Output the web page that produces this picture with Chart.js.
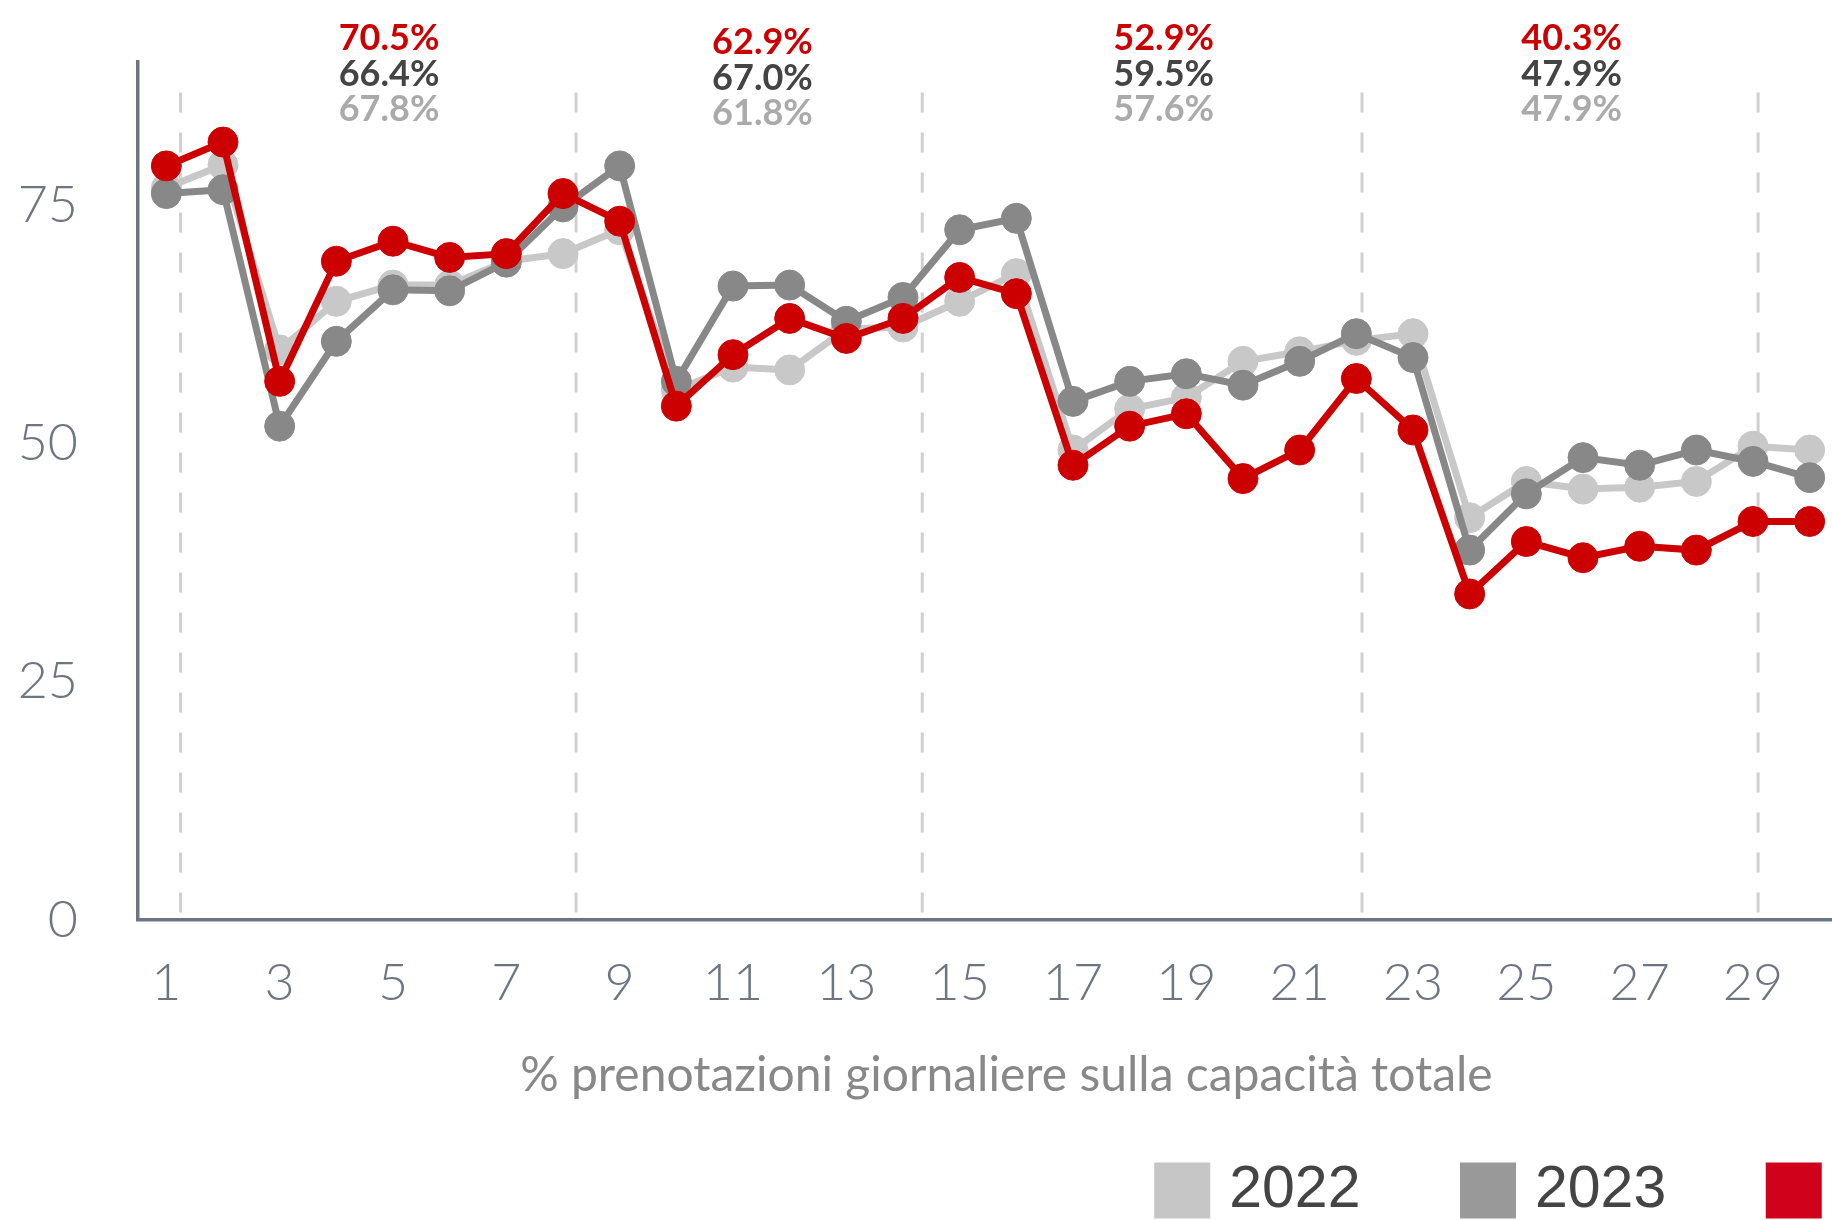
<!DOCTYPE html>
<html>
<head>
<meta charset="utf-8">
<script src="https://cdn.jsdelivr.net/npm/chart.js@4.4.1/dist/chart.umd.min.js"></script>
<style>
    html, body { margin: 0; padding: 0; background: #fff; overflow: hidden; }
    #wrap { position: relative; width: 1832px; height: 1220px; overflow: hidden; }
    #myChart { position: absolute; left: 0; top: 0; width: 2082px; height: 1230px; }
</style>
</head>
<body>
<div id="wrap"><canvas id="myChart" width="2082" height="1230"></canvas></div>
<script>
    // days of the month
    var days = ['1', '2', '3', '4', '5', '6', '7', '8', '9', '10', '11', '12', '13', '14', '15',
                '16', '17', '18', '19', '20', '21', '22', '23', '24', '25', '26', '27', '28', '29', '30'];

    // % daily bookings on total capacity
    var values2022 = [76.8, 79.2, 59.8, 64.9, 66.6, 66.6, 69.1, 69.9, 72.4, 55.6, 58.0, 57.7, 62.0, 62.2, 64.9,
                      67.8, 49.3, 53.6, 54.8, 58.6, 59.6, 60.8, 61.5, 42.2, 46.0, 45.2, 45.4, 46.0, 49.7, 49.3];
    var values2023 = [76.2, 76.6, 51.8, 60.7, 66.1, 66.0, 69.0, 74.8, 79.1, 56.5, 66.5, 66.6, 62.8, 65.3, 72.4,
                      73.6, 54.4, 56.5, 57.3, 56.1, 58.6, 61.5, 59.0, 38.8, 44.7, 48.5, 47.7, 49.3, 48.1, 46.4];
    var values2024 = [79.1, 81.6, 56.5, 69.1, 71.2, 69.5, 69.9, 76.2, 73.3, 53.9, 59.3, 63.1, 61.0, 63.1, 67.4,
                      65.7, 47.7, 51.8, 53.1, 46.3, 49.3, 56.8, 51.4, 34.2, 39.7, 38.0, 39.2, 38.8, 41.8, 41.8];

    // weekly averages shown on top
    var weekAvg2024 = [70.5, 62.9, 52.9, 40.3];
    var weekAvg2023 = [66.4, 67.0, 59.5, 47.9];
    var weekAvg2022 = [67.8, 61.8, 57.6, 47.9];

    // where the week separators and week labels sit (in days)
    var weekBreaks = [1.25, 8.23, 14.34, 22.1, 29.09];
    var weekCenters = [4.93, 11.52, 18.6, 25.8];
    var labelShift = [0, 4, 0, 0];

    var yTicks = [0, 25, 50, 75];

    var axisColor = '#6c7682';

    var weekLines = {
        id: 'weekLines',
        beforeDatasetsDraw: function (chart) {
            var c = chart.ctx, x = chart.scales.x, y = chart.scales.y;
            c.save();
            c.strokeStyle = '#d0d0d0';
            c.lineWidth = 3;
            c.setLineDash([20, 20]);
            weekBreaks.forEach(function (d) {
                var px = x.getPixelForValue(d - 1);
                c.beginPath();
                c.moveTo(px, y.getPixelForValue(86.8));
                c.lineTo(px, y.getPixelForValue(0));
                c.stroke();
            });
            c.restore();
        }
    };

    var weekLabels = {
        id: 'weekLabels',
        afterDraw: function (chart) {
            var c = chart.ctx, x = chart.scales.x, top = chart.chartArea.top;
            var rows = [
                { vals: weekAvg2024, color: '#cc0000', dy: -23.5 },
                { vals: weekAvg2023, color: '#444444', dy: 12 },
                { vals: weekAvg2022, color: '#aaaaaa', dy: 47.5 }
            ];
            c.save();
            c.font = 'bold 36px Lato';
            c.textAlign = 'center';
            c.textBaseline = 'middle';
            weekCenters.forEach(function (d, i) {
                var px = x.getPixelForValue(d - 1);
                rows.forEach(function (r) {
                    c.fillStyle = r.color;
                    c.fillText(r.vals[i].toFixed(1) + '%', px, top + r.dy + labelShift[i]);
                });
            });
            c.restore();
        }
    };

    Chart.defaults.font.family = 'Lato';

    var ctx = document.getElementById('myChart').getContext('2d');
    var chart = new Chart(ctx, {
        type: 'line',
        data: {
            labels: days,
            datasets: [{
                label: '2022',
                data: values2022,
                borderColor: '#c8c8c8',
                backgroundColor: '#c6c6c6',
                pointBackgroundColor: '#c8c8c8',
                pointBorderColor: '#c8c8c8',
                order: 3
            }, {
                label: '2023',
                data: values2023,
                borderColor: '#888888',
                backgroundColor: '#999999',
                pointBackgroundColor: '#888888',
                pointBorderColor: '#888888',
                order: 2
            }, {
                label: '2024',
                data: values2024,
                borderColor: '#cc0000',
                backgroundColor: '#d0021b',
                pointBackgroundColor: '#cc0000',
                pointBorderColor: '#cc0000',
                order: 1
            }]
        },
        options: {
            responsive: false,
            animation: false,
            devicePixelRatio: 1,
            layout: { padding: { top: 62, left: 0, right: 0, bottom: 0 } },
            elements: {
                line: { borderWidth: 7, tension: 0, fill: false },
                point: { radius: 15, hoverRadius: 15, borderWidth: 1 }
            },
            plugins: {
                tooltip: { enabled: false },
                legend: {
                    position: 'bottom',
                    align: 'end',
                    labels: {
                        // small box + thick same-colour border = 56px square, tighter gap to the text
                        boxWidth: 35,
                        boxHeight: 35,
                        padding: 110,
                        color: '#444444',
                        font: { family: 'Liberation Sans', size: 59 },
                        sort: function (a, b) { return a.datasetIndex - b.datasetIndex; },
                        generateLabels: function (chart) {
                            var items = Chart.defaults.plugins.legend.labels.generateLabels(chart);
                            items.forEach(function (it) {
                                it.strokeStyle = it.fillStyle;
                                it.lineWidth = 21;
                                it.lineDash = [];
                            });
                            return items;
                        }
                    }
                }
            },
            scales: {
                x: {
                    offset: true,
                    grid: { display: false, drawTicks: false },
                    border: { color: axisColor, width: 3.5 },
                    ticks: {
                        autoSkip: false,
                        maxRotation: 0,
                        padding: 32,
                        color: axisColor,
                        font: { family: 'Lato', size: 52, weight: '300' },
                        callback: function (v, i) { return i % 2 === 0 ? this.getLabelForValue(v) : ''; }
                    },
                    title: {
                        display: true,
                        text: '\u00a0\u00a0\u00a0% prenotazioni giornaliere sulla capacità totale',
                        color: '#888888',
                        font: { family: 'Lato', size: 48 },
                        padding: { top: 0, bottom: -53 }
                    }
                },
                y: {
                    min: 0,
                    max: 90,
                    grid: { display: false, drawTicks: false },
                    border: { color: axisColor, width: 3.5 },
                    afterBuildTicks: function (s) { s.ticks = yTicks.map(function (v) { return { value: v }; }); },
                    ticks: {
                        padding: 60,
                        color: axisColor,
                        font: { family: 'Lato', size: 52, weight: '300' }
                    },
                    afterFit: function (s) {
                        s.width = 138;
                        s.paddingTop = 0;
                        s.paddingBottom = 0;
                    }
                },
                y2: {
                    position: 'right',
                    grid: { display: false, drawTicks: false },
                    border: { display: false },
                    ticks: { display: false },
                    afterFit: function (s) { s.width = 244; }
                }
            }
        },
        plugins: [weekLines, weekLabels]
    });
</script>
</body>
</html>
